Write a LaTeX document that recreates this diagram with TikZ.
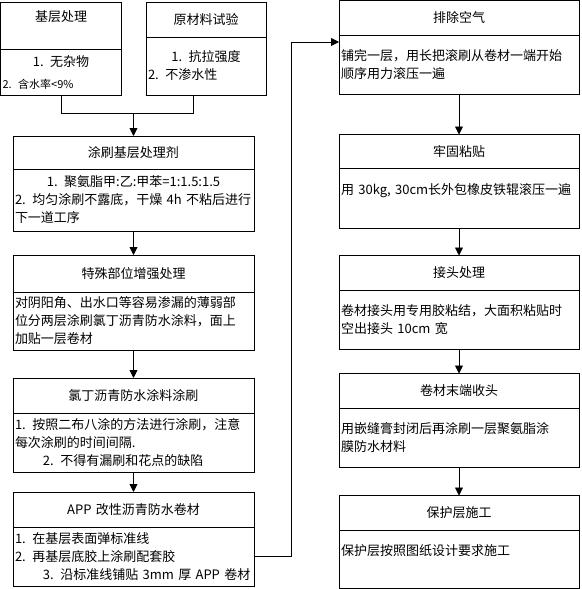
\documentclass[tikz,border=0pt]{standalone}
\usepackage{fontspec}
\newfontfamily\cjk{Noto Sans CJK SC}
\usetikzlibrary{arrows.meta,positioning,calc}

\begin{document}
\begin{tikzpicture}[
  x=1pt, y=-1pt,
  stagehead/.style={rectangle, draw=black, line width=0.9pt, outer sep=0pt, inner xsep=2pt, inner ysep=1pt, font=\cjk\fontsize{13}{18}\selectfont, align=center, minimum height=35pt},
  stagebody/.style={rectangle, draw=black, line width=0.9pt, outer sep=0pt, inner xsep=2pt, inner ysep=1pt, font=\cjk\fontsize{13}{18}\selectfont, align=left, minimum height=59pt},
  flowarrow/.style={-{Triangle[width=8pt,length=8pt]}, line width=0.9pt, draw=black},
  flowline/.style={line width=0.9pt, draw=black}
]
  \useasboundingbox (0,0) rectangle (581,589);

  % Left column: preparation and coating
  \node[stagehead, anchor=north west, text width=117pt, minimum height=47pt] (basetitle) at (0.5,2) {基层处理\\\null};
  \node[stagebody, below=0pt of basetitle, text width=117pt, minimum height=46pt] (basebody) {\vspace*{8pt}{\centering 1. 无杂物\par}{\fontsize{11}{14}\selectfont 2. 含水率<9\%\par}};
  \node[stagehead, anchor=north west, text width=116pt] (rawtitle) at (146,2) {原材料试验};
  \node[stagebody, below=0pt of rawtitle, text width=116pt, minimum height=58pt] (rawbody) {{\centering 1. 抗拉强度\par}2. 不渗水性};

  \node[stagehead, anchor=north west, text width=237pt, minimum height=33pt] (primetitle) at (13,136) {涂刷基层处理剂};
  \node[stagebody, below=0pt of primetitle, text width=237pt, minimum height=62pt] (primebody) {{\centering 1. 聚氨脂甲:乙:甲苯=1:1.5:1.5\par}2. 均匀涂刷不露底，干燥 4h 不粘后进行\\下一道工序};
  \node[stagehead, below=24pt of primebody, text width=237pt, minimum height=37pt] (detailtitle) {特殊部位增强处理};
  \node[stagebody, below=0pt of detailtitle, text width=237pt, minimum height=58pt] (detailbody) {对阴阳角、出水口等容易渗漏的薄弱部\\位分两层涂刷氯丁沥青防水涂料，面上\\加贴一层卷材};
  \node[stagehead, below=28pt of detailbody, text width=237pt] (coattitle) {氯丁沥青防水涂料涂刷};
  \node[stagebody, below=0pt of coattitle, text width=237pt] (coatbody) {1. 按照二布八涂的方法进行涂刷，注意\\每次涂刷的时间间隔.\\\hspace*{28pt}2. 不得有漏刷和花点的缺陷};
  \node[stagehead, below=20pt of coatbody, text width=237pt] (rolltitle) {APP 改性沥青防水卷材};
  \node[stagebody, below=0pt of rolltitle, text width=237pt] (rollbody) {1. 在基层表面弹标准线\\2. 再基层底胶上涂刷配套胶\\\hspace*{28pt}3. 沿标准线铺贴 3mm 厚 APP 卷材};

  % Right column: laying and finishing
  \node[stagehead, anchor=north west, text width=236pt] (airtitle) at (339,0.5) {排除空气};
  \node[stagebody, below=0pt of airtitle, text width=236pt] (airbody) {铺完一层，用长把滚刷从卷材一端开始\\顺序用力滚压一遍};
  \node[stagehead, below=40pt of airbody, text width=236pt, minimum height=34pt] (presstitle) {牢固粘贴};
  \node[stagebody, below=0pt of presstitle, text width=236pt, minimum height=60pt] (pressbody) {\mbox{用 30kg, 30cm长外包橡皮铁辊滚压一遍}\\\null};
  \node[stagehead, below=27pt of pressbody, text width=236pt] (jointtitle) {接头处理};
  \node[stagebody, below=0pt of jointtitle, text width=236pt] (jointbody) {卷材接头用专用胶粘结，大面积粘贴时\\空出接头 10cm 宽};
  \node[stagehead, below=24pt of jointbody, text width=236pt] (endtitle) {卷材末端收头};
  \node[stagebody, below=0pt of endtitle, text width=236pt] (endbody) {用嵌缝膏封闭后再涂刷一层聚氨脂涂\\膜防水材料};
  \node[stagehead, below=28pt of endbody, text width=236pt] (covertitle) {保护层施工};
  \node[stagebody, below=0pt of covertitle, text width=236pt, minimum height=58pt] (coverbody) {保护层按照图纸设计要求施工\\\null};

  % Connectors
  \coordinate (merge) at (133.5,113);
  \coordinate (riser) at (291,42);
  \draw[flowline] (basebody.south) |- (merge);
  \draw[flowline] ($(rawbody.south)+(-13pt,0)$) |- (merge);
  \draw[flowarrow] (merge) -- (primetitle.north);
  \draw[flowarrow] (primebody) -- (detailtitle);
  \draw[flowarrow] (detailbody) -- (coattitle);
  \draw[flowarrow] (coatbody) -- (rolltitle);

  % Column change
  \draw[flowarrow] (rollbody.east) -| (riser) -- (riser -| airbody.west);
  \draw[flowarrow] (airbody) -- (presstitle);
  \draw[flowarrow] (pressbody) -- (jointtitle);
  \draw[flowarrow] (jointbody) -- (endtitle);
  \draw[flowarrow] (endbody) -- (covertitle);
\end{tikzpicture}
\end{document}
